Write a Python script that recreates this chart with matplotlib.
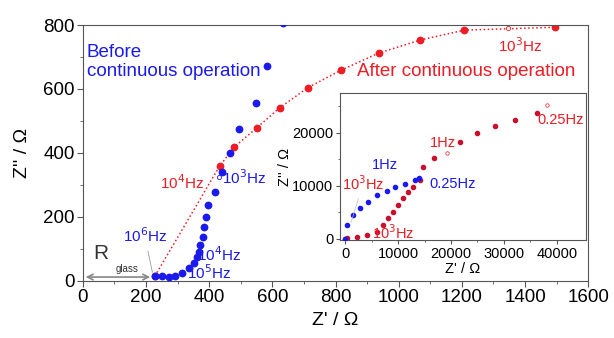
import matplotlib
matplotlib.use('Agg')
import matplotlib.pyplot as plt

plt.rcParams['font.family'] = ['Liberation Sans', 'DejaVu Sans']

# main plot data (Z' , Z'')
before_x = [228, 250, 272, 291, 313, 335, 351, 360, 367, 370, 379, 382, 389, 395, 417,
            440, 465, 493, 547, 582, 635]
before_y = [16, 16, 13, 16, 25, 41, 57, 75, 91, 112, 137, 169, 200, 237, 278,
            340, 400, 475, 556, 672, 805]
after_x = [228, 433, 480, 550, 623, 712, 818, 936, 1068, 1208, 1495]
after_y = [15, 359, 419, 478, 541, 604, 659, 712, 753, 784, 793]

# inset data
in_before_x = [0, 380, 1500, 2800, 4300, 6000, 7900, 9400, 11300, 13200, 14000]
in_before_y = [0, 2640, 4500, 5850, 7000, 8300, 9050, 9800, 10400, 11100, 11500]
in_after_x = [0, 380, 2260, 4150, 6040, 7170, 8110, 9060, 10000, 10940, 11900, 12800,
              14150, 14700, 16800, 21700, 24900, 28300, 32100, 36200]
in_after_y = [0, 190, 380, 750, 1320, 2640, 3960, 5090, 6400, 7740, 8870, 9800,
              11130, 13600, 15300, 18300, 20000, 21300, 22450, 23800]

blue = '#1a1aee'
red = '#ee1c24'
grey = '#555555'

fig = plt.figure(figsize=(6.14, 3.38), dpi=100)
ax = fig.add_axes([0.135, 0.169, 0.823, 0.757])
ax.plot(after_x, after_y, ':', color=red, lw=1.1, marker='o', ms=4.6, mec=red, zorder=2)
ax.plot(before_x, before_y, 'o', color=blue, ms=4.6, zorder=3)
ax.set_xlim(0, 1600)
ax.set_ylim(0, 800)
ax.set_xticks(range(0, 1601, 200))
ax.set_yticks(range(0, 801, 200))
ax.set_xticks(range(100, 1600, 200), minor=True)
ax.set_yticks(range(100, 800, 200), minor=True)
ax.tick_params(labelsize=13.5, color=grey, direction='out', length=4, pad=2)
ax.tick_params(which='minor', direction='out', length=2, color=grey)
for s in ax.spines.values():
    s.set_color(grey)
ax.set_xlabel("Z' / \u03a9", fontsize=14, labelpad=4)
ax.set_ylabel("Z'' / \u03a9", fontsize=14, labelpad=9)

ax.text(12, 683, 'Before\ncontinuous operation', color=blue, fontsize=13.5,
        va='center', linespacing=1.15)
ax.text(868, 656, 'After continuous operation', color=red, fontsize=13.5, va='center')

# R glass
ax.annotate('', xy=(0, 12), xytext=(222, 12),
            arrowprops=dict(arrowstyle='<->', color='#888888', lw=1.2))
ax.text(57, 85, 'R', fontsize=15, ha='center', va='center', color='#333333')
ax.text(140, 38, 'glass', fontsize=7, ha='center', va='center', color='#333333')

ax.annotate('10$^6$Hz', xy=(222, 18), xytext=(196, 140), color=blue, fontsize=11,
            ha='center', va='center',
            arrowprops=dict(arrowstyle='-', color='#999999', lw=0.6))
ax.text(360, 81, '10$^4$Hz', color=blue, fontsize=11, va='center')
ax.text(329, 26, '10$^5$Hz', color=blue, fontsize=11, va='center')
ax.text(245, 306, '10$^4$Hz', color=red, fontsize=11, va='center')
ax.plot([430], [325], 'o', mfc='white', mec=blue, ms=3, mew=0.6, zorder=4)
ax.text(440, 322, '10$^3$Hz', color=blue, fontsize=11, va='center')
ax.plot([1347], [790], 'o', mfc='white', mec=red, ms=3, mew=0.6, zorder=4)
ax.text(1315, 737, '10$^3$Hz', color=red, fontsize=11, va='center')

# inset
ins = fig.add_axes([0.554, 0.29, 0.400, 0.435])
ins.plot(in_before_x, in_before_y, 'o', color=blue, ms=3, zorder=3)
ins.plot(in_after_x, in_after_y, 'o', color='#c8102e', ms=3, zorder=2)
ins.set_xlim(-1000, 45500)
ins.set_ylim(-200, 27500)
ins.set_xticks(range(0, 40001, 10000))
ins.set_yticks(range(0, 20001, 10000))
ins.set_xticks(range(5000, 45000, 10000), minor=True)
ins.set_yticks(range(5000, 27000, 10000), minor=True)
ins.tick_params(labelsize=10.5, color=grey, direction='out', length=3, pad=2)
ins.tick_params(which='minor', direction='out', length=1.5, color=grey)
for s in ins.spines.values():
    s.set_color(grey)
ins.set_xlabel("Z' / \u03a9", fontsize=10.5, labelpad=1)
ins.set_ylabel("Z'' / \u03a9", fontsize=10.5, labelpad=0)

ins.text(5100, 13960, '1Hz', color=blue, fontsize=10.5, va='center')
ins.text(15900, 10380, '0.25Hz', color=blue, fontsize=10.5, va='center')
ins.annotate('10$^3$Hz', xy=(900, 2600), xytext=(-700, 10380), color=red, fontsize=10.5,
             va='center', annotation_clip=False,
             arrowprops=dict(arrowstyle='-', color='#bbbbbb', lw=0.5))
ins.text(5100, 1130, '10$^3$Hz', color=red, fontsize=10.5, va='center')
ins.plot([19250], [16200], 'o', mfc='white', mec=red, ms=2.5, mew=0.5)
ins.text(16000, 18100, '1Hz', color=red, fontsize=10.5, va='center')
ins.plot([38100], [25300], 'o', mfc='white', mec=red, ms=2.5, mew=0.5)
ins.text(36400, 22450, '0.25Hz', color=red, fontsize=10.5, va='center')

plt.savefig('out.png', dpi=100)
